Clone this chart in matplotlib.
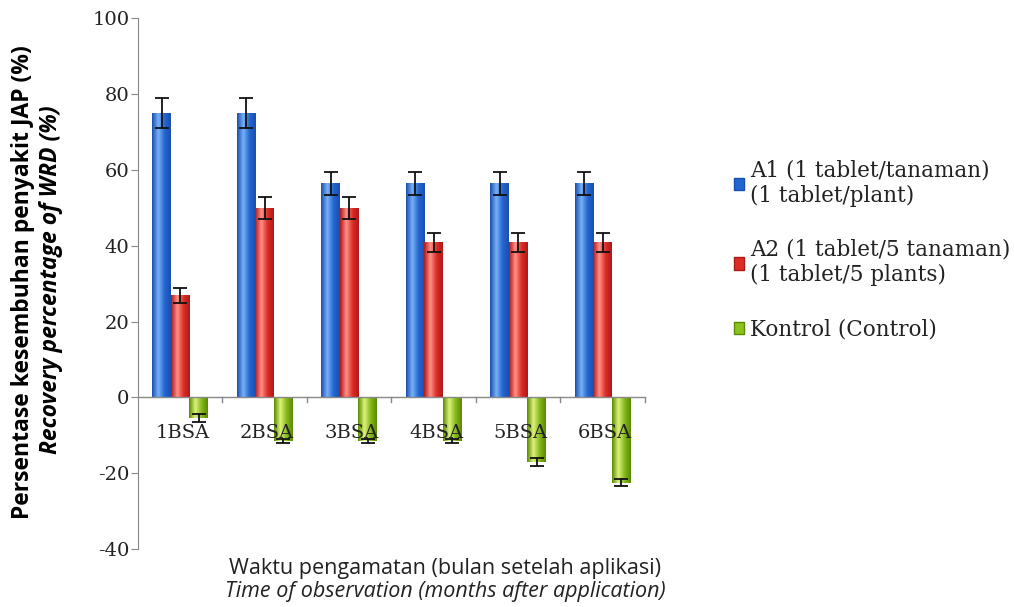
import numpy as np
import matplotlib
matplotlib.use("Agg")
import matplotlib.pyplot as plt
from matplotlib.colors import LinearSegmentedColormap
from matplotlib.patches import Rectangle

categories = ["1BSA", "2BSA", "3BSA", "4BSA", "5BSA", "6BSA"]
a1_values = [75, 75, 56.5, 56.5, 56.5, 56.5]
a1_err = [4, 4, 3, 3, 3, 3]
a2_values = [27, 50, 50, 41, 41, 41]
a2_err = [2, 3, 3, 2.5, 2.5, 2.5]
k_values = [-5.5, -11.5, -11.5, -11.5, -17, -22.5]
k_err = [1, 0.5, 0.5, 0.5, 1, 1]
series_labels = ["A1 (1 tablet/tanaman)\n(1 tablet/plant)",
                 "A2 (1 tablet/5 tanaman)\n(1 tablet/5 plants)",
                 "Kontrol (Control)"]
y_ticks = [-40, -20, 0, 20, 40, 60, 80, 100]

serif = ["DejaVu Serif"]
sans = ["Open Sans", "DejaVu Sans"]

fig = plt.figure(figsize=(10.14, 6.07), dpi=100)
ax = fig.add_axes([0.136, 0.0956, 0.500, 0.874])

x = np.arange(len(categories))
w = 0.22
series = [
    (a1_values, a1_err, ["#1a4fb0", "#78b0f5", "#2466d0"], "#2466d0"),
    (a2_values, a2_err, ["#b01818", "#ff9088", "#dc2e26"], "#dc2e26"),
    (k_values, k_err, ["#5a8a00", "#dcf27a", "#86b81e"], "#8cc21e"),
]
handles = []
for i, (vals, errs, cols, main) in enumerate(series):
    pos = x + (i - 1) * w
    bars = ax.bar(pos, vals, w, color=main, edgecolor="none", zorder=2)
    cmap = LinearSegmentedColormap.from_list("g%d" % i, [cols[0], cols[1], cols[2], cols[0]])
    grad = np.linspace(0, 1, 64).reshape(1, -1)
    for b in bars:
        x0, y0 = b.get_x(), b.get_y()
        bw, bh = b.get_width(), b.get_height()
        im = ax.imshow(grad, cmap=cmap, aspect="auto", zorder=2.5,
                       extent=[x0, x0 + bw, min(y0, y0 + bh), max(y0, y0 + bh)])
        im.set_clip_path(b)
    ax.errorbar(pos, vals, yerr=errs, fmt="none", ecolor="#111111",
                elinewidth=1.3, capsize=5, capthick=1.3, zorder=4)
    handles.append(Rectangle((0, 0), 1, 1, facecolor=main, edgecolor=cols[0]))

ax.set_xlim(-0.5, len(categories) - 0.5)
ax.set_ylim(-40, 100)
ax.set_yticks(y_ticks)
ax.set_yticklabels([str(t) for t in y_ticks], fontfamily=serif, fontsize=14,
                   color="#222222")

for s in ["top", "right", "bottom"]:
    ax.spines[s].set_visible(False)
ax.spines["left"].set_color("#888888")
ax.tick_params(axis="y", direction="out", length=5, color="#888888", pad=1)
ax.axhline(0, color="#888888", lw=1, zorder=3)

ax.set_xticks([])
for b in np.arange(0.5, len(categories) + 0.5, 1.0):
    ax.plot([b, b], [0, -1.3], color="#888888", lw=1, zorder=3, clip_on=False)
for xi, c in zip(x, categories):
    ax.text(xi + 0.03, -9.5, c, ha="center", va="center", fontfamily=serif,
            fontsize=14, color="#222222", zorder=5)

fig.text(0.023, 0.535, "Persentase kesembuhan penyakit JAP (%)", rotation=90,
         ha="center", va="center", fontfamily=sans, fontweight="bold", fontsize=16.5)
fig.text(0.050, 0.540, "Recovery percentage of WRD (%)", rotation=90,
         ha="center", va="center", fontfamily=sans, fontweight="bold",
         fontstyle="italic", fontsize=16.5)
fig.text(0.439, 0.064, "Waktu pengamatan (bulan setelah aplikasi)",
         ha="center", va="center", fontfamily=sans, fontsize=15.5, color="#222222")
fig.text(0.439, 0.026, "Time of observation (months after application)",
         ha="center", va="center", fontfamily=sans, fontstyle="italic", fontsize=15.5,
         color="#222222")

leg = fig.legend(handles, series_labels, loc="upper left",
                 bbox_to_anchor=(0.715, 0.752), frameon=False,
                 prop={"family": serif, "size": 15.5},
                 handlelength=0.5, handleheight=0.5, handletextpad=0.25,
                 labelspacing=1.5, borderaxespad=0)
for t in leg.get_texts():
    t.set_color("#222222")

fig.savefig("out.png", dpi=100, facecolor="white")
